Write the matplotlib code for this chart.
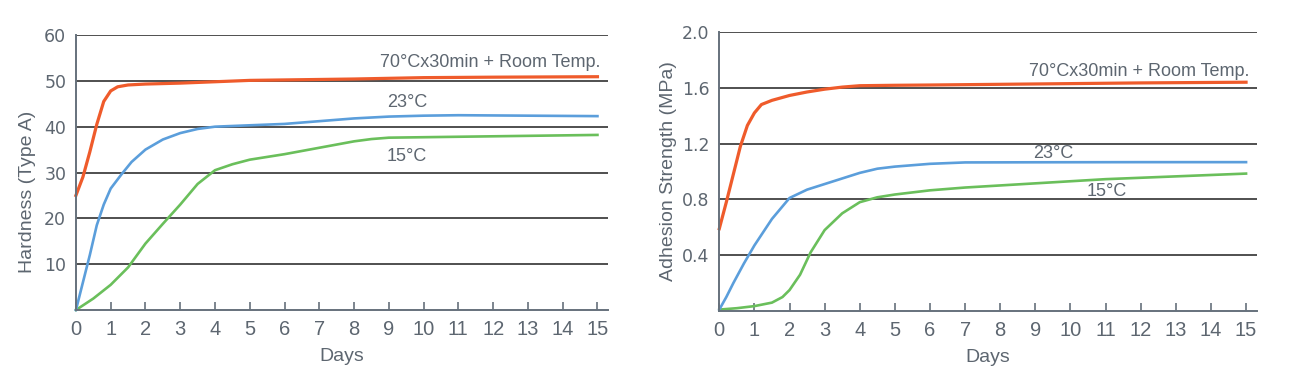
import matplotlib
matplotlib.use("Agg")
import matplotlib.pyplot as plt

# hardness (Type A) vs days
hard_days_70 = [0, 0.2, 0.4, 0.6, 0.8, 1.0, 1.2, 1.5, 2, 3, 4, 5, 6, 8, 10, 12, 15]
hard_70 = [25, 29, 34.5, 40.5, 45.5, 47.8, 48.7, 49.1, 49.3, 49.5, 49.8, 50.1, 50.2, 50.4, 50.7, 50.8, 50.9]

hard_days_23 = [0, 0.2, 0.4, 0.6, 0.8, 1.0, 1.3, 1.6, 2, 2.5, 3, 3.5, 4, 5, 6, 7, 8, 9, 10, 11, 13, 15]
hard_23 = [0, 6, 12, 18.5, 23, 26.5, 29.5, 32.3, 35, 37.2, 38.6, 39.5, 40, 40.3, 40.6, 41.2, 41.8, 42.2, 42.4, 42.5, 42.4, 42.3]

hard_days_15 = [0, 0.5, 1, 1.5, 2, 2.5, 3, 3.5, 4, 4.5, 5, 6, 7, 8, 8.5, 9, 10, 12, 15]
hard_15 = [0, 2.5, 5.5, 9.3, 14.5, 18.8, 23, 27.5, 30.5, 31.8, 32.8, 34, 35.4, 36.8, 37.3, 37.6, 37.7, 37.9, 38.2]

# adhesion strength (MPa) vs days
adh_days_70 = [0, 0.2, 0.4, 0.6, 0.8, 1.0, 1.2, 1.5, 2, 2.5, 3, 3.5, 4, 5, 6, 8, 10, 12, 15]
adh_70 = [0.59, 0.78, 0.98, 1.18, 1.33, 1.42, 1.48, 1.51, 1.545, 1.57, 1.59, 1.605, 1.615, 1.618, 1.62, 1.625, 1.63, 1.635, 1.64]

adh_days_23 = [0, 0.2, 0.4, 0.7, 1.0, 1.5, 2, 2.5, 3, 3.5, 4, 4.5, 5, 6, 7, 9, 12, 15]
adh_23 = [0.01, 0.1, 0.2, 0.34, 0.47, 0.66, 0.81, 0.87, 0.91, 0.95, 0.99, 1.02, 1.035, 1.055, 1.065, 1.066, 1.067, 1.067]

adh_days_15 = [0, 0.5, 1, 1.5, 1.8, 2, 2.3, 2.6, 3, 3.5, 4, 4.5, 5, 6, 7, 8, 9, 10, 11, 12, 13, 14, 15]
adh_15 = [0.01, 0.02, 0.035, 0.06, 0.1, 0.15, 0.26, 0.42, 0.58, 0.7, 0.78, 0.815, 0.835, 0.865, 0.885, 0.9, 0.915, 0.93, 0.945, 0.955, 0.965, 0.975, 0.985]

x_ticks = list(range(0, 16))
hard_ticks = [10, 20, 30, 40, 50, 60]
adh_ticks = [0.4, 0.8, 1.2, 1.6, 2.0]
labels = ["70°Cx30min + Room Temp.", "23°C", "15°C"]

c_70 = "#ef5b2b"
c_23 = "#5b9edb"
c_15 = "#6abf5b"
txt = "#5d6670"
grid_c = "#4f4f4f"
spine_c = "#66717c"

plt.rcParams['font.family'] = ['Liberation Sans', 'DejaVu Sans']

fig = plt.figure(figsize=(13, 3.76), dpi=100)
ax1 = fig.add_axes([0.0584, 0.1755, 0.4092, 0.7314])
ax2 = fig.add_axes([0.5533, 0.1729, 0.4133, 0.742])


def style(ax, yticks, ylim, ylabel, yfmt):
    ax.set_xlim(0, 15.3)
    ax.set_ylim(*ylim)
    ax.set_xticks(x_ticks)
    ax.set_yticks(yticks)
    ax.set_yticklabels([yfmt.format(v) for v in yticks], family='DejaVu Sans', fontsize=12.5, color=txt)
    ax.set_xticklabels([str(v) for v in x_ticks], fontsize=14.5, color=txt)
    ax.tick_params(axis='x', direction='in', length=6, width=1.2, color=spine_c, pad=7)
    ax.tick_params(axis='y', length=0, pad=7)
    ax.yaxis.grid(True, color=grid_c, linewidth=1.4)
    ax.set_axisbelow(True)
    for s in ['top', 'right']:
        ax.spines[s].set_visible(False)
    for s in ['left', 'bottom']:
        ax.spines[s].set_color(spine_c)
        ax.spines[s].set_linewidth(1.4)
    ax.set_xlabel("Days", fontsize=14, color=txt, labelpad=7)
    ax.set_ylabel(ylabel, fontsize=14, color=txt)


ax1.plot(hard_days_15, hard_15, color=c_15, lw=1.9, clip_on=False)
ax1.plot(hard_days_23, hard_23, color=c_23, lw=1.9, clip_on=False)
ax1.plot(hard_days_70, hard_70, color=c_70, lw=2.3, clip_on=False)
style(ax1, hard_ticks, (0, 60), "Hardness (Type A)", "{:d}")
ax1.yaxis.set_label_coords(-0.075, 0.43)
ax1.text(15.09, 53.9, labels[0], ha='right', va='center', fontsize=13, color=txt)
ax1.text(8.95, 45.2, labels[1], ha='left', va='center', fontsize=13, color=txt)
ax1.text(8.95, 33.4, labels[2], ha='left', va='center', fontsize=13, color=txt)

ax2.plot(adh_days_15, adh_15, color=c_15, lw=1.9, clip_on=False)
ax2.plot(adh_days_23, adh_23, color=c_23, lw=1.9, clip_on=False)
ax2.plot(adh_days_70, adh_70, color=c_70, lw=2.3, clip_on=False)
style(ax2, adh_ticks, (0, 2.0), "Adhesion Strength (MPa)", "{:.1f}")
ax2.yaxis.set_label_coords(-0.078, 0.5)
ax2.text(15.1, 1.72, labels[0], ha='right', va='center', fontsize=13, color=txt)
ax2.text(8.94, 1.13, labels[1], ha='left', va='center', fontsize=13, color=txt)
ax2.text(10.47, 0.86, labels[2], ha='left', va='center', fontsize=13, color=txt)

fig.savefig("out.png", dpi=100, facecolor='white')
